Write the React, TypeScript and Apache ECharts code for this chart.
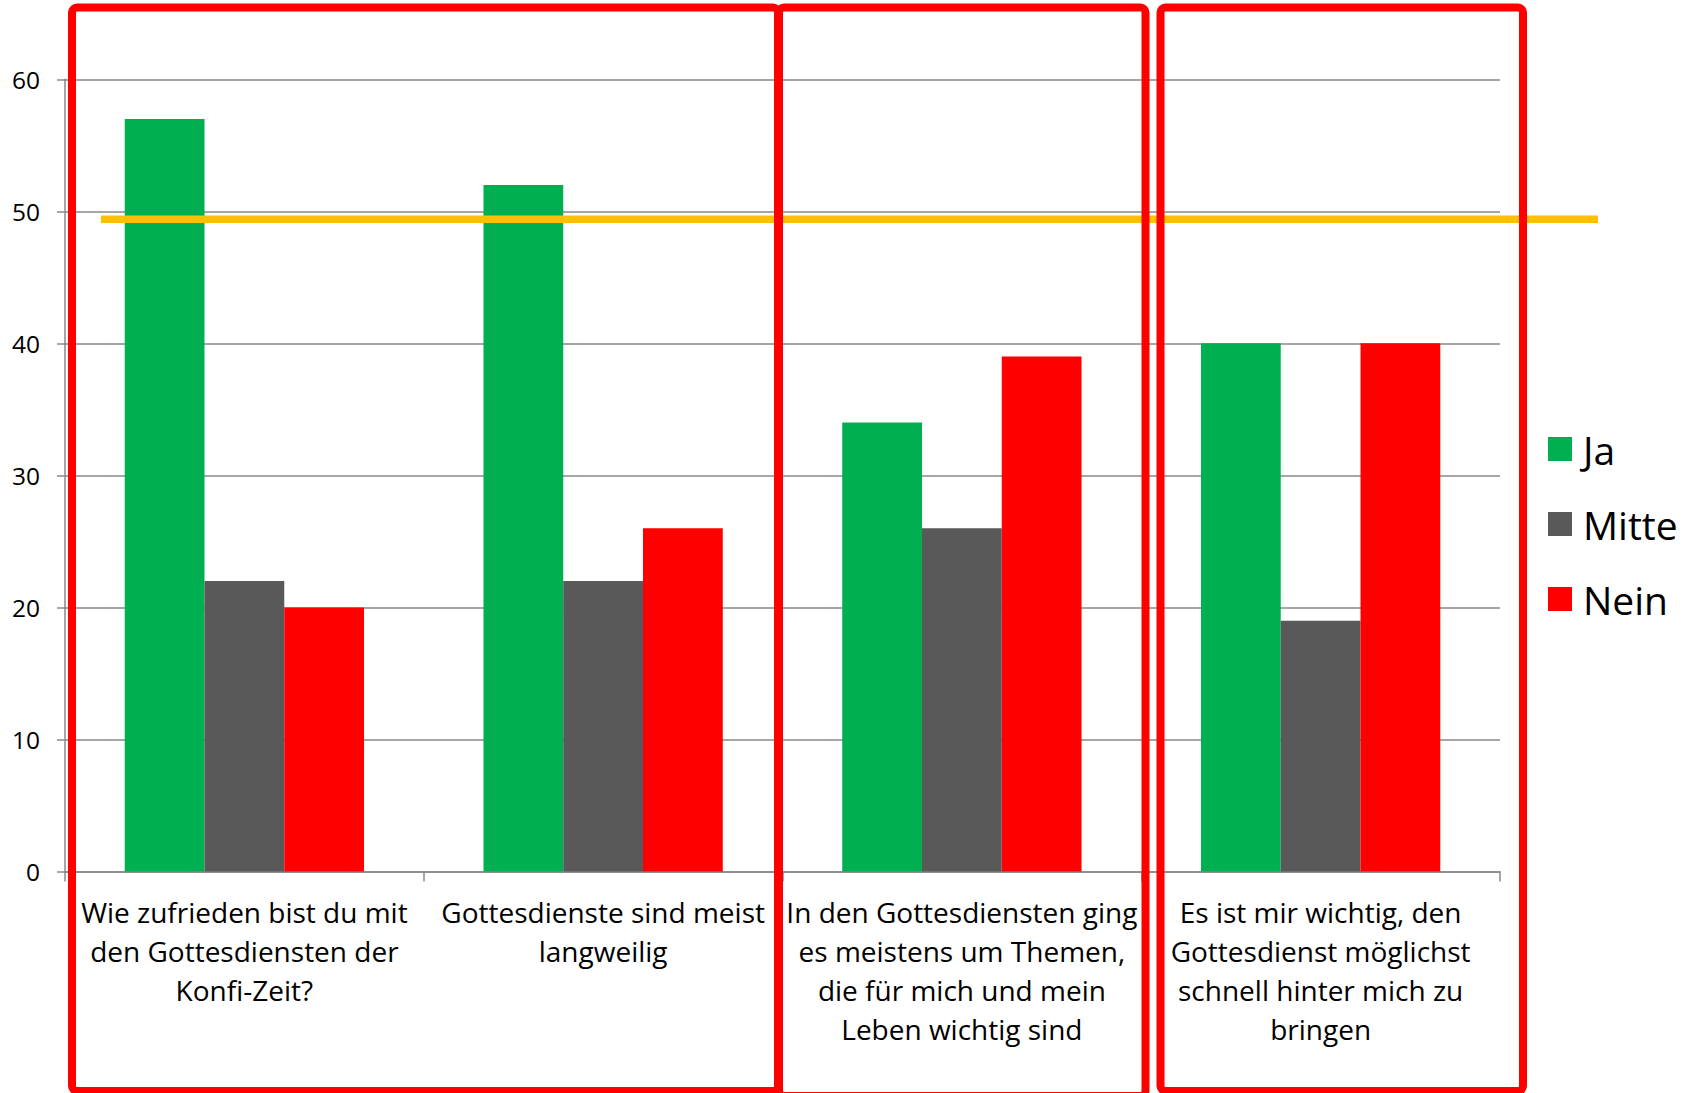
import React, { useEffect, useRef } from "react";
import * as echarts from "echarts";

// Survey statements shown along the category axis
const categories = [
  "Wie zufrieden bist du mit\nden Gottesdiensten der\nKonfi-Zeit?",
  "Gottesdienste sind meist\nlangweilig",
  "In den Gottesdiensten ging\nes meistens um Themen,\ndie für mich und mein\nLeben wichtig sind",
  "Es ist mir wichtig, den\nGottesdienst möglichst\nschnell hinter mich zu\nbringen",
];

// Answer shares per statement
const jaValues = [57, 52, 34, 40];
const mitteValues = [22, 22, 26, 19];
const neinValues = [20, 26, 39, 40];

// Value axis range
const yMin = 0;
const yMax = 60;
const yStep = 10;

// Highlighted threshold (yellow line)
const referenceValue = 49.4;

const FONT = "'Open Sans', Lato, sans-serif";
const GRID_GREY = "#898989";

export default function App() {
  const ref = useRef<HTMLDivElement>(null);

  useEffect(() => {
    if (!ref.current) return;
    const chart = echarts.init(ref.current, undefined, { renderer: "svg" });

    chart.setOption({
      animation: false,
      backgroundColor: "#ffffff",
      textStyle: { fontFamily: FONT },
      grid: { left: 65, right: 190, top: 79.3, bottom: 221.5 },
      legend: {
        orient: "vertical",
        left: 1548,
        top: 429,
        padding: 0,
        itemWidth: 24,
        itemHeight: 24,
        itemGap: 35,
        icon: "rect",
        textStyle: {
          fontFamily: FONT,
          fontSize: 39,
          lineHeight: 40,
          color: "#000",
          padding: [0, 0, 0, 6],
        },
        data: ["Ja", "Mitte", "Nein"],
      },
      xAxis: {
        type: "category",
        data: categories,
        boundaryGap: true,
        axisLine: { show: true, lineStyle: { color: GRID_GREY, width: 1.5 } },
        axisTick: {
          show: true,
          length: 10,
          lineStyle: { color: GRID_GREY, width: 1.5 },
        },
        axisLabel: {
          interval: 0,
          margin: 21,
          fontFamily: FONT,
          fontSize: 28,
          lineHeight: 39,
          color: "#000",
          align: "center",
        },
        splitLine: { show: false },
      },
      yAxis: {
        type: "value",
        min: yMin,
        max: yMax,
        interval: yStep,
        axisLine: { show: true, lineStyle: { color: GRID_GREY, width: 1.5 } },
        axisTick: {
          show: true,
          length: 8,
          lineStyle: { color: GRID_GREY, width: 1.5 },
        },
        axisLabel: {
          margin: 25,
          fontFamily: FONT,
          fontSize: 24.5,
          color: "#000",
        },
        splitLine: { show: true, lineStyle: { color: GRID_GREY, width: 1.5 } },
      },
      series: [
        {
          name: "Ja",
          type: "bar",
          data: jaValues,
          barGap: "0%",
          barCategoryGap: "33.3%",
          itemStyle: { color: "#00B050" },
        },
        {
          name: "Mitte",
          type: "bar",
          data: mitteValues,
          barGap: "0%",
          barCategoryGap: "33.3%",
          itemStyle: { color: "#595959" },
        },
        {
          name: "Nein",
          type: "bar",
          data: neinValues,
          barGap: "0%",
          barCategoryGap: "33.3%",
          itemStyle: { color: "#FF0000" },
        },
      ],
    });

    // Threshold line and the highlight frames around the statement groups
    const yRef = chart.convertToPixel({ yAxisIndex: 0 }, referenceValue) as number;
    const frame = (x1: number, y1: number, x2: number, y2: number) => ({
      type: "rect",
      z: 100,
      shape: { x: x1, y: y1, width: x2 - x1, height: y2 - y1, r: 5 },
      style: { fill: "none", stroke: "#FF0000", lineWidth: 8 },
    });

    chart.setOption({
      graphic: [
        {
          type: "line",
          z: 90,
          shape: { x1: 101, y1: yRef, x2: 1598, y2: yRef },
          style: { stroke: "#FFC000", lineWidth: 7.5 },
        },
        frame(72, 7.5, 778, 1091),
        frame(779, 7.5, 1145.5, 1096),
        frame(1160.5, 7.5, 1523, 1091),
      ],
    });

    return () => chart.dispose();
  }, []);

  return (
    <div
      ref={ref}
      style={{ position: "fixed", left: 0, top: 0, width: 1690, height: 1093 }}
    />
  );
}
